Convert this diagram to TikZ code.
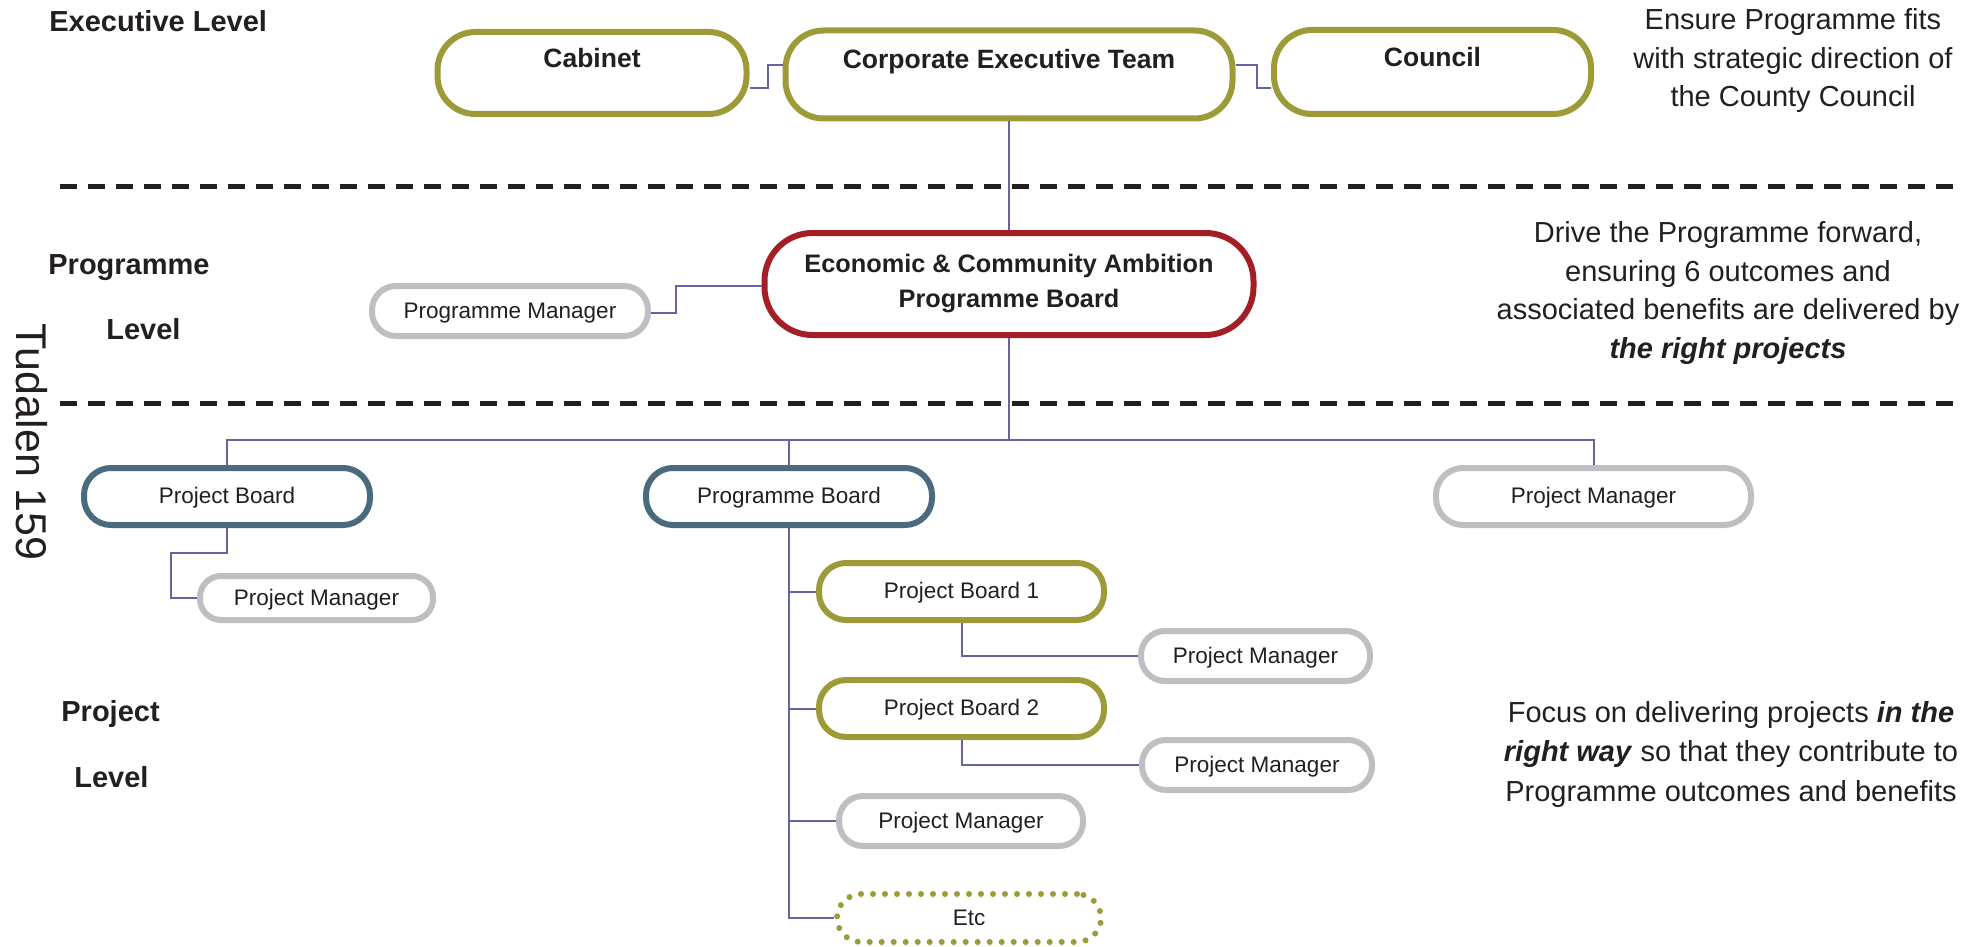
\documentclass[tikz,border=0pt]{standalone}
\usepackage{fontspec}
\setmainfont{Liberation Sans}
\definecolor{cOlive}{RGB}{157,155,56}
\definecolor{cRed}{RGB}{163,30,38}
\definecolor{cTeal}{RGB}{74,106,126}
\definecolor{cGrey}{RGB}{190,191,194}
\definecolor{cConn}{RGB}{100,100,160}
\definecolor{cText}{RGB}{35,31,32}
\begin{document}
\begin{tikzpicture}[x=0.5pt,y=-0.5pt,
  box/.style={draw, line width=3pt, fill=white, inner sep=0pt, text=cText, align=center},
  onel/.style={text height=0.716em, text depth=0pt},
  toptxt/.style={text height=0.716em, text depth=13pt},
  topbox/.style={box, draw=cOlive, toptxt, rounded corners=19pt, font=\fontsize{13.25pt}{16pt}\selectfont\bfseries},
  smallf/.style={font=\fontsize{11.25pt}{13.5pt}\selectfont},
  tealbox/.style={box, draw=cTeal, onel, smallf, rounded corners=13.5pt, minimum width=143pt, minimum height=28.5pt},
  olivebox/.style={box, draw=cOlive, onel, smallf, rounded corners=13.5pt, minimum width=142.5pt, minimum height=28.5pt},
  greybox/.style={box, draw=cGrey, onel, smallf, rounded corners=12pt, minimum height=25pt},
  conn/.style={draw=cConn, line width=1pt},
  sepline/.style={draw=cText, line width=2.5pt, dash pattern=on 8.5pt off 5.5pt},
  lvl/.style={inner sep=0pt, text=cText, onel, anchor=west, font=\fontsize{14.5pt}{17pt}\selectfont\bfseries},
  side/.style={inner sep=0pt, text=cText, align=center},
]
\useasboundingbox (0,0) rectangle (1982,947);

% separators
\draw[sepline] (60,187) -- (1960,187);
\draw[sepline] (60,403) -- (1960,403);

% level labels
\node[lvl] (exl) at (49,24) {Executive Level};
\node[lvl] (prg) at (48,267) {Programme};
\node[lvl] (lv1) at (106,332) {Level};
\node[lvl] (prj) at (61,714) {Project};
\begin{scope}
  \clip (0,740) rectangle (300,786);
  \node[lvl] (lv2) at (74,780) {Level};
\end{scope}

\node[inner sep=0pt, text=cText, onel, rotate=-90, font=\fontsize{21.5pt}{24pt}\selectfont] (tud) at (23.5,442) {Tudalen 159};

% side texts
\node[side, font=\fontsize{14.5pt}{19.25pt}\selectfont] (s1) at (1793,61)
  {Ensure Programme fits\\with strategic direction of\\the County Council};
\node[side, font=\fontsize{14.5pt}{19.25pt}\selectfont] (s2) at (1728,293)
  {Drive the Programme forward,\\ensuring 6 outcomes and\\associated benefits are delivered by\\\textbf{\textit{the right projects}}};
\node[side, font=\fontsize{14.5pt}{19.75pt}\selectfont] (s3) at (1731,754)
  {Focus on delivering projects \textbf{\textit{in the}}\\\textbf{\textit{right way}} so that they contribute to\\Programme outcomes and benefits};

% executive level
\node[topbox, minimum width=154.5pt, minimum height=41pt] (cab) at (592,73) {Cabinet};
\node[topbox, minimum width=223.5pt, minimum height=44pt] (cet) at (1009,74.5) {Corporate Executive Team};
\node[topbox, minimum width=158.5pt, minimum height=42pt] (cou) at (1432.5,72) {Council};

% programme level
\node[box, draw=cRed, rounded corners=24pt, minimum width=244.5pt, minimum height=51pt,
      font=\fontsize{12.65pt}{17.5pt}\selectfont\bfseries] (ecap) at (1009,284)
  {Economic \& Community Ambition\\Programme Board};
\node[greybox, minimum width=138pt] (pm) at (510,311) {Programme Manager};

% project level
\node[tealbox] (pbl) at (227,496.5) {Project Board};
\node[tealbox] (progb) at (789,496.5) {Programme Board};
\node[greybox, minimum width=157.5pt, minimum height=28.5pt, rounded corners=13.5pt] (pmr) at (1593.5,496.5) {Project Manager};
\node[greybox, minimum width=116.5pt, minimum height=22pt, rounded corners=10.5pt] (pml) at (316.5,598) {Project Manager};
\node[olivebox] (pb1) at (961.5,591.5) {Project Board 1};
\node[greybox, minimum width=114.5pt] (pm1) at (1255.5,656) {Project Manager};
\node[olivebox] (pb2) at (961.5,708.5) {Project Board 2};
\node[greybox, minimum width=115pt] (pm2) at (1257,765) {Project Manager};
\node[greybox, minimum width=122pt] (pm3) at (961,821) {Project Manager};
\node[box, draw=cOlive, onel, smallf, rounded corners=12pt, minimum width=132pt, minimum height=24pt,
      dash pattern=on 0pt off 6pt, line cap=round] (etc) at (969,918) {Etc};

% connectors
\draw[conn] ([yshift=-7.5pt]cab.east) -- ++(18,0) |- ([yshift=4.75pt]cet.west);
\draw[conn] ([yshift=4.75pt]cet.east) -- ++(21,0) |- ([yshift=-8pt]cou.west);
\draw[conn] (cet.south) -- (ecap.north);
\draw[conn] ([yshift=-1pt]pm.east) -- ++(25,0) |- ([yshift=-1pt]ecap.west);
\coordinate (bus) at (1009,440);
\draw[conn] (ecap.south) -- (ecap.south |- bus);
\draw[conn] (pbl.north) |- (pmr.north |- bus) -- (pmr.north);
\draw[conn] (progb.north) -- (progb.north |- bus);
\draw[conn] (pbl.south) |- ++(-56,25) |- (pml.west);
\draw[conn] (progb.south) |- (etc.west);
\foreach \n in {pb1,pb2,pm3} \draw[conn] (progb.south |- \n.west) -- (\n.west);
\draw[conn] (pb1.south) |- (pm1.west);
\draw[conn] (pb2.south) |- (pm2.west);
\end{tikzpicture}
\end{document}
